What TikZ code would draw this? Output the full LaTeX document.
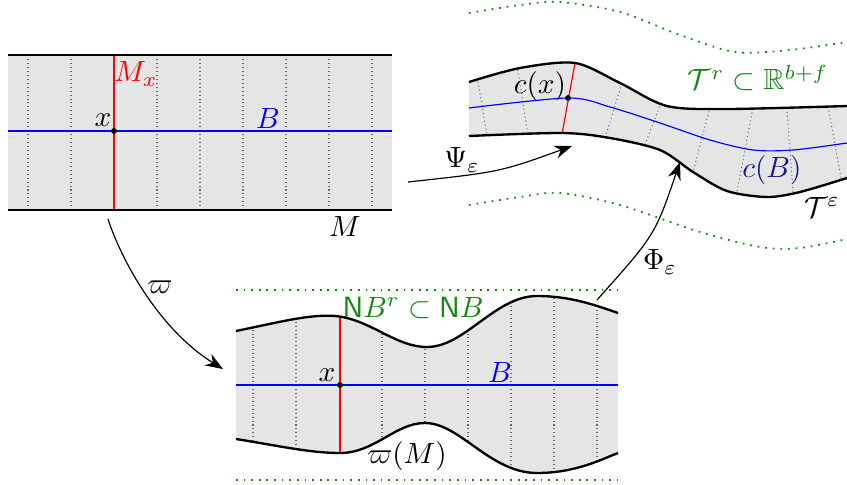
\documentclass[tikz,border=0pt]{standalone}
\usepackage{amsmath,amssymb}
\usetikzlibrary{arrows.meta}
\definecolor{fibgray}{HTML}{E5E5E5}
\definecolor{nbgreen}{HTML}{118811}
\definecolor{cbblue}{HTML}{1A1A8C}
\tikzset{
  fibre/.style={densely dotted,black!60,line width=0.35pt},
  bound/.style={thick},
  baseline curve/.style={draw=blue,line width=0.4pt},
  fibx/.style={draw=red,line width=0.4pt},
  nbhd/.style={dotted,semithick,nbgreen}
}

\begin{document}
\begin{tikzpicture}[x=0.3413pt,y=-0.3413pt,>={Stealth[length=6pt,width=4.5pt]}]
  \useasboundingbox (0,0) rectangle (847,485);
  % Total space M
  \fill[fibgray] (8,55) rectangle (392,210);
  \foreach \xx in {28,71,157,200,243,286,329,372}
    \draw[fibre] (\xx,55) -- (\xx,210);
  \draw[baseline curve] (8,131) -- (392,131);
  \draw[fibx] (114,55) -- (114,210);
  \draw[bound] (8,55) -- (392,55) (8,210) -- (392,210);
  \fill (114,131) circle[radius=1pt];
  \node[red] (Mx) at (136,74) {$M_x$};
  \node (xM) at (103,120) {$x$};
  \node[blue] (BM) at (268,118) {$B$};
  \node (M) at (345,226) {$M$};

  % Normal bundle NB
  \draw[nbhd] (236,290) -- (618,290) (236,480) -- (618,480);
  \path[save path=\nbpath] (236,331) .. controls (280,322) and (310,314) .. (335,316)
    .. controls (370,319) and (395,347) .. (427,347) .. controls (465,347) and (495,296) .. (537,296)
    .. controls (570,296) and (595,305) .. (618,313)
    -- (618,453) .. controls (600,460) and (575,473) .. (537,473) .. controls (490,473) and (460,423) .. (425,423)
    .. controls (395,423) and (375,453) .. (340,453) .. controls (310,453) and (280,446) .. (236,439) -- cycle;
  \fill[fibgray,use path=\nbpath];
  \begin{scope}
    \clip[use path=\nbpath];
    \foreach \xx in {253,296,382,425,468,511,554,597}
      \draw[fibre] (\xx,290) -- (\xx,480);
    \draw[fibx] (340,290) -- (340,480);
  \end{scope}
  \draw[baseline curve] (236,385) -- (618,385);
  \draw[bound] (236,331) .. controls (280,322) and (310,314) .. (335,316)
    .. controls (370,319) and (395,347) .. (427,347) .. controls (465,347) and (495,296) .. (537,296)
    .. controls (570,296) and (595,305) .. (618,313);
  \draw[bound] (236,439) .. controls (280,446) and (310,453) .. (340,453)
    .. controls (375,453) and (395,423) .. (425,423) .. controls (460,423) and (490,473) .. (537,473)
    .. controls (575,473) and (600,460) .. (618,453);
  \fill (340,385) circle[radius=1pt];
  \node (xN) at (327,375) {$x$};
  \node[blue] (BN) at (500,372) {$B$};
  \node[nbgreen] (NB) at (413,308) {$\mathsf{N}B^r\subset\mathsf{N}B$};
  \node (piM) at (407,456) {$\varpi(M)$};

  % Tube in R^{b+f}
  \draw[nbhd] plot[smooth] coordinates {(469,13) (520,5) (560,2) (620,12) (680,35) (735,52) (790,50) (847,42)};
  \draw[nbhd] plot[smooth] coordinates {(469,205) (520,197) (560,193) (620,205) (700,232) (760,247) (800,248) (847,239)};
  \path[save path=\tubepath] plot[smooth] coordinates {(469,82) (520,68) (575,63) (620,83) (667,106) (727,109) (847,106)}
    -- plot[smooth] coordinates {(847,178) (800,192) (767,197) (727,191) (693,172) (660,150) (610,138) (562,133) (469,136)} -- cycle;
  \fill[fibgray,use path=\tubepath];
  \begin{scope}
    \clip[use path=\tubepath];
    \foreach \a/\b/\c/\d in {476/70/489/147, 516/58/529/142, 624/76/603/145, 665/92/640/158,
      713/96/690/184, 755/97/735/202, 786/96/794/205, 826/95/844/194}
      \draw[fibre] (\a,\b) -- (\c,\d);
    \draw[fibx] (577,52) -- (560,145);
  \end{scope}
  \draw[baseline curve] plot[smooth] coordinates {(469,108) (568,98) (610,107) (660,123) (710,140) (753,150) (793,150) (847,143)};
  \draw[bound] plot[smooth] coordinates {(469,82) (520,68) (575,63) (620,83) (667,106) (727,109) (847,106)};
  \draw[bound] plot[smooth] coordinates {(469,136) (562,133) (610,138) (660,150) (693,172) (727,191) (767,197) (800,192) (847,178)};
  \fill (568,98) circle[radius=1pt];
  \node (cx) at (540,86) {$c(x)$};
  \node[nbgreen] (Tr) at (758,78) {$\mathcal{T}^r\subset\mathbb{R}^{b+f}$};
  \node[cbblue] (cB) at (772,170) {$c(B)$};
  \node (Teps) at (822,207) {$\mathcal{T}^\varepsilon$};

  % Maps
  \coordinate (pi0) at (108,219);
  \coordinate (pi1) at (223,369);
  \coordinate (psi0) at (408,182);
  \coordinate (psi1) at (572,146);
  \coordinate (phi0) at (597,300);
  \coordinate (phi1) at (680,162);
  \draw[->] (pi0) .. controls (122,262) and (160,330) .. (pi1);
  \draw[->] (psi0) .. controls (500,172) .. (psi1);
  \draw[->] (phi0) .. controls (655,235) .. (phi1);
  \node (pi) at (160,287) {$\varpi$};
  \node (Psi) at (462,160) {$\Psi_\varepsilon$};
  \node (Phi) at (660,262) {$\Phi_\varepsilon$};
\end{tikzpicture}
\end{document}
